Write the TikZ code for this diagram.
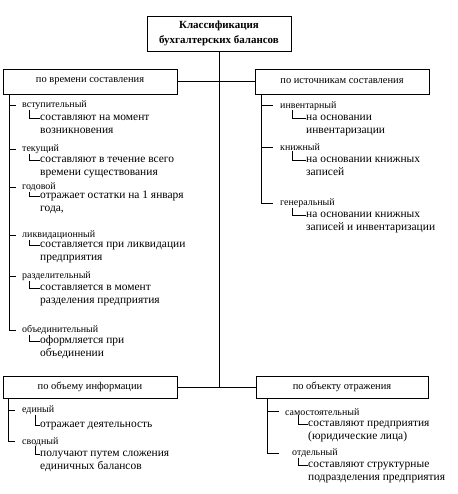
\documentclass[tikz,border=0pt]{standalone}
\usepackage{fontspec}
\setmainfont{Liberation Serif}
\begin{document}
\begin{tikzpicture}[x=1bp,y=-1bp]
\tikzstyle{ln}= [line width=0.8bp]
\tikzstyle{grp}= [rectangle,draw,line width=0.8bp,minimum width=174bp,minimum height=25bp,inner sep=0pt,font=\fontsize{10.5}{12}\selectfont]
\tikzstyle{kind}= [anchor=west,inner sep=0pt,font=\fontsize{10}{12}\selectfont]
\tikzstyle{expl}= [anchor=north west,inner sep=0pt,align=left,font=\fontsize{11.5}{13}\selectfont]

\useasboundingbox (0,0) rectangle (458,494);

\path
	(219,33.5) node[grp,minimum width=144bp,minimum height=35bp,align=center,font=\bfseries\fontsize{11}{15}\selectfont] (root) {Классификация\\бухгалтерских балансов}
	( 90,81.5) node[grp] (time) {по времени составления}
	(342,81.5) node[grp] (src) {по источникам составления}
	( 90,387)  node[grp,minimum height=22bp] (info) {по объему информации}
	(342,387)  node[grp,minimum height=22bp,minimum width=172bp] (obj) {по объекту отражения}
;
\path
	(22,105.5) node[kind] (vst) {вступительный}
	(40,111.5) node[expl] (vstx) {\strut составляют на момент\\возникновения}
	(22,149.5) node[kind] (tek) {текущий}
	(40,153.5) node[expl] (tekx) {\strut составляют в течение всего\\времени существования}
	(22,187)   node[kind] (god) {годовой}
	(40,189.5) node[expl] (godx) {\strut отражает остатки на 1 января\\года,}
	(22,235)   node[kind] (likv) {ликвидационный}
	(40,238.5) node[expl] (likvx) {\strut составляется при ликвидации\\предприятия}
	(22,276.5) node[kind] (razd) {разделительный}
	(40,281)   node[expl] (razdx) {\strut составляется в момент\\разделения предприятия}
	(22,330)   node[kind] (obed) {объединительный}
	(40,334)   node[expl] (obedx) {\strut оформляется при\\объединении}
;
\path
	(280,105.7) node[kind] (inv) {инвентарный}
	(306,111.3) node[expl] (invx) {\strut на основании\\инвентаризации}
	(280,147.3) node[kind] (kn) {книжный}
	(306,153.7) node[expl] (knx) {\strut на основании книжных\\записей}
	(280,203.3) node[kind] (gen) {генеральный}
	(306,208)   node[expl] (genx) {\strut на основании книжных\\записей и инвентаризации}
;
\path
	(22,410)    node[kind] (ed) {единый}
	(40,418)    node[expl] (edx) {\strut отражает деятельность}
	(22,441.7)  node[kind] (sv) {сводный}
	(40,447.3)  node[expl] (svx) {\strut получают путем сложения\\единичных балансов}
	(285,411.7) node[kind] (sam) {самостоятельный}
	(308,417.3) node[expl] (samx) {\strut составляют предприятия\\(юридические лица)}
	(292,453)   node[kind] (otd) {отдельный}
	(308,458)   node[expl] (otdx) {\strut составляют структурные\\подразделения предприятия}
;
\coordinate (lt) at ([xshift=7bp]time.south west);
\coordinate (rt) at ([xshift=7bp]src.south west);
\coordinate (lb) at ([xshift=6bp]info.south west);
\coordinate (rb) at ([xshift=12bp]obj.south west);

\draw[ln] (root) -- (root |- info);
\draw[ln] (time) -- (src);
\draw[ln] (info) -- (obj);

\draw[ln,shorten >=6bp] (lt) |- (obed.west);
\draw[ln,shorten >=6bp] (lt |- vst.west) -- (vst.west);
\draw[ln,shorten >=6bp] (lt |- tek.west) -- (tek.west);
\draw[ln,shorten >=6bp] (lt |- god.west) -- (god.west);
\draw[ln,shorten >=6bp] (lt |- likv.west) -- (likv.west);
\draw[ln,shorten >=6bp] (lt |- razd.west) -- (razd.west);
\draw[ln] ([xshift=7bp]vst.south west) |- ([yshift=-7bp]vstx.north west);
\draw[ln] ([xshift=7bp]tek.south west) |- ([yshift=-7bp]tekx.north west);
\draw[ln] ([xshift=7bp]god.south west) |- ([yshift=-7bp]godx.north west);
\draw[ln] ([xshift=7bp]likv.south west) |- ([yshift=-7bp]likvx.north west);
\draw[ln] ([xshift=7bp]razd.south west) |- ([yshift=-7bp]razdx.north west);
\draw[ln] ([xshift=7bp]obed.south west) |- ([yshift=-7bp]obedx.north west);

\draw[ln,shorten >=7bp] (rt) |- (gen.west);
\draw[ln,shorten >=7bp] (rt |- inv.west) -- (inv.west);
\draw[ln,shorten >=7bp] (rt |- kn.west) -- (kn.west);
\draw[ln] ([xshift=12bp]inv.south west) |- ([yshift=-7bp]invx.north west);
\draw[ln] ([xshift=12bp]kn.south west) |- ([yshift=-7bp]knx.north west);
\draw[ln] ([xshift=12bp]gen.south west) |- ([yshift=-7bp]genx.north west);

\draw[ln,shorten >=7bp] (lb) |- (sv.west);
\draw[ln,shorten >=7bp] (lb |- ed.west) -- (ed.west);
\draw[ln] ([xshift=13bp]ed.south west) |- ([yshift=-7bp]edx.north west);
\draw[ln] ([xshift=13bp]sv.south west) |- ([yshift=-7bp]svx.north west);

\draw[ln,shorten >=13bp] (rb) |- (otd.west);
\draw[ln,shorten >=6bp] (rb |- sam.west) -- (sam.west);
\draw[ln] ([xshift=13bp]sam.south west) |- ([yshift=-7bp]samx.north west);
\draw[ln] ([xshift=6bp]otd.south west) |- ([yshift=-7bp]otdx.north west);
\end{tikzpicture}
\end{document}
